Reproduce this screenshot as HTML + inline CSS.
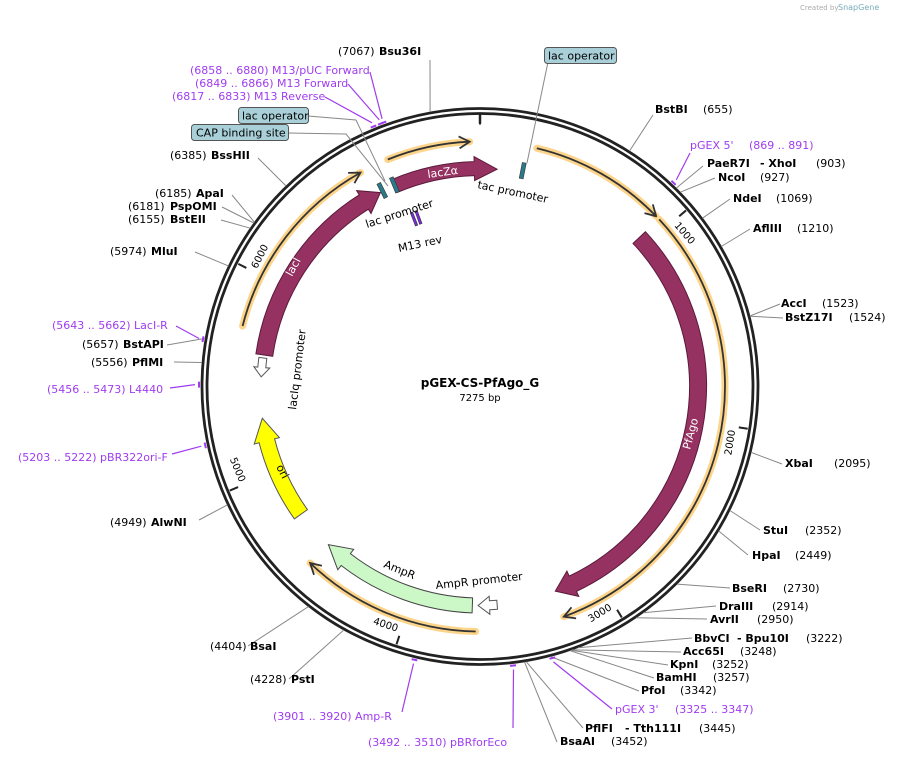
<!DOCTYPE html>
<html><head><meta charset="utf-8">
<style>
html,body{margin:0;padding:0;background:#fff;}
svg{display:block;font-family:"DejaVu Sans","Liberation Sans",sans-serif;font-size:11px;}
.b{font-weight:bold;fill:#000;}
.n{fill:#000;}
.p{fill:#a03cf0;}
</style></head><body>
<svg id="s" width="898" height="758" viewBox="0 0 898 758" xmlns="http://www.w3.org/2000/svg">
<text x="800" y="10" font-size="7" fill="#aaa">Created by</text><text x="838" y="10" font-size="8" fill="#7ab">SnapGene</text>
<g id="shapes"></g>
<g id="lines" stroke="#888" stroke-width="1" fill="none"></g>

<text x="480" y="387" text-anchor="middle" font-weight="bold" font-size="12">pGEX-CS-PfAgo_G</text>
<text x="480" y="401" text-anchor="middle" font-size="10">7275 bp</text>

<text x="655" y="113"><tspan class="b">BstBI</tspan><tspan x="703" class="n">(655)</tspan></text>
<text x="690" y="149" class="p">pGEX 5'<tspan x="749">(869 .. 891)</tspan></text>
<text x="707" y="167"><tspan class="b">PaeR7I</tspan><tspan x="760" class="b">- XhoI</tspan><tspan x="816">(903)</tspan></text>
<text x="718" y="181"><tspan class="b">NcoI</tspan><tspan x="760">(927)</tspan></text>
<text x="733" y="202"><tspan class="b">NdeI</tspan><tspan x="776">(1069)</tspan></text>
<text x="753" y="232"><tspan class="b">AflIII</tspan><tspan x="797">(1210)</tspan></text>
<text x="781" y="307"><tspan class="b">AccI</tspan><tspan x="822">(1523)</tspan></text>
<text x="785" y="321"><tspan class="b">BstZ17I</tspan><tspan x="849">(1524)</tspan></text>
<text x="785" y="467"><tspan class="b">XbaI</tspan><tspan x="834">(2095)</tspan></text>
<text x="763" y="534"><tspan class="b">StuI</tspan><tspan x="805">(2352)</tspan></text>
<text x="752" y="559"><tspan class="b">HpaI</tspan><tspan x="795">(2449)</tspan></text>
<text x="732" y="592"><tspan class="b">BseRI</tspan><tspan x="783">(2730)</tspan></text>
<text x="719" y="610"><tspan class="b">DraIII</tspan><tspan x="772">(2914)</tspan></text>
<text x="710" y="623"><tspan class="b">AvrII</tspan><tspan x="757">(2950)</tspan></text>
<text x="694" y="642"><tspan class="b">BbvCI</tspan><tspan x="737" class="b">- Bpu10I</tspan><tspan x="806">(3222)</tspan></text>
<text x="683" y="655"><tspan class="b">Acc65I</tspan><tspan x="740">(3248)</tspan></text>
<text x="670" y="668"><tspan class="b">KpnI</tspan><tspan x="712">(3252)</tspan></text>
<text x="656" y="681"><tspan class="b">BamHI</tspan><tspan x="713">(3257)</tspan></text>
<text x="641" y="694"><tspan class="b">PfoI</tspan><tspan x="680">(3342)</tspan></text>
<text x="615" y="713" class="p">pGEX 3'<tspan x="675">(3325 .. 3347)</tspan></text>
<text x="585" y="732"><tspan class="b">PflFI</tspan><tspan x="625" class="b">- Tth111I</tspan><tspan x="699">(3445)</tspan></text>
<text x="560" y="745"><tspan class="b">BsaAI</tspan><tspan x="611">(3452)</tspan></text>

<text x="368" y="746" class="p">(3492 .. 3510)  pBRforEco</text>
<text x="273" y="720" class="p">(3901 .. 3920)  Amp-R</text>
<text x="250" y="683">(4228)<tspan x="291" class="b">PstI</tspan></text>
<text x="210" y="650">(4404)<tspan x="250" class="b">BsaI</tspan></text>
<text x="110" y="526">(4949)<tspan x="151" class="b">AlwNI</tspan></text>
<text x="18" y="461" class="p">(5203 .. 5222)  pBR322ori-F</text>
<text x="47" y="393" class="p">(5456 .. 5473)  L4440</text>
<text x="91" y="366">(5556)<tspan x="132" class="b">PflMI</tspan></text>
<text x="82" y="348">(5657)<tspan x="123" class="b">BstAPI</tspan></text>
<text x="52" y="329" class="p">(5643 .. 5662)  LacI-R</text>
<text x="110" y="255">(5974)<tspan x="151" class="b">MluI</tspan></text>
<text x="128" y="223">(6155)<tspan x="170" class="b">BstEII</tspan></text>
<text x="128" y="210">(6181)<tspan x="170" class="b">PspOMI</tspan></text>
<text x="155" y="197">(6185)<tspan x="196" class="b">ApaI</tspan></text>
<text x="170" y="159">(6385)<tspan x="211" class="b">BssHII</tspan></text>
<text x="172" y="100" class="p">(6817 .. 6833)  M13 Reverse</text>
<text x="195" y="87" class="p">(6849 .. 6866)  M13 Forward</text>
<text x="190" y="74" class="p">(6858 .. 6880)  M13/pUC Forward</text>
<text x="338" y="55">(7067)<tspan x="379" class="b">Bsu36I</tspan></text>

<rect x="191.5" y="124.5" width="97" height="16" rx="3" fill="#a9d0d9" stroke="#555"/>
<text x="196" y="136.5">CAP binding site</text>
<rect x="238.5" y="107.5" width="70" height="16" rx="3" fill="#a9d0d9" stroke="#555"/>
<text x="242" y="119.5">lac operator</text>
<rect x="544.5" y="47.5" width="72" height="16" rx="3" fill="#a9d0d9" stroke="#555"/>
<text x="548" y="59.5">lac operator</text>

<text x="0" y="0" transform="translate(428,178) rotate(-8)" fill="#fff" font-size="11">lacZα</text>
<text x="0" y="0" transform="translate(292,277) rotate(-62)" fill="#fff" font-size="11">lacI</text>
<text x="0" y="0" transform="translate(690,450) rotate(-75)" fill="#fff" font-size="11">PfAgo</text>
<text x="0" y="0" transform="translate(276,467) rotate(62)" fill="#000" font-size="11">ori</text>
<text x="0" y="0" transform="translate(383,567) rotate(22)" font-size="11">AmpR</text>
<text x="0" y="0" transform="translate(436,589) rotate(-6)" font-size="11">AmpR promoter</text>
<text x="0" y="0" transform="translate(296,410) rotate(-83)" font-size="11">lacIq promoter</text>
<text x="0" y="0" transform="translate(367,228) rotate(-18)" font-size="11">lac promoter</text>
<text x="0" y="0" transform="translate(477,188) rotate(12)" font-size="11">tac promoter</text>
<text x="0" y="0" transform="translate(399,252) rotate(-12)" font-size="11">M13 rev</text>
<g id="ticks"></g>
</svg>
<script>
var cx=480,cy=386.5,N=7275;
function P(a,r){var t=a*Math.PI/180;return [cx+r*Math.sin(t),cy-r*Math.cos(t)];}
function f(p){return p[0].toFixed(1)+","+p[1].toFixed(1);}
function arc(a1,a2,r){var p1=P(a1,r),p2=P(a2,r);var lg=(a2-a1)>180?1:0;return "M"+f(p1)+" A"+r+","+r+" 0 "+lg+" 1 "+f(p2);}
var sh=document.getElementById("shapes");var out="";
out+='<circle cx="'+cx+'" cy="'+cy+'" r="278" fill="none" stroke="#222" stroke-width="2.8"/>';
out+='<circle cx="'+cx+'" cy="'+cy+'" r="273" fill="none" stroke="#222" stroke-width="2.8"/>';
function feat(a1,a2,r,w,h,hw,fill,stroke){
 var ah=a2-h;var ro=r+w/2,ri=r-w/2;
 var d="M"+f(P(a1,ro))+" A"+ro+","+ro+" 0 "+((ah-a1)>180?1:0)+" 1 "+f(P(ah,ro));
 d+=" L"+f(P(ah,r+hw/2))+" L"+f(P(a2,r))+" L"+f(P(ah,r-hw/2))+" L"+f(P(ah,ri));
 d+=" A"+ri+","+ri+" 0 "+((ah-a1)>180?1:0)+" 0 "+f(P(a1,ri))+"Z";
 out+='<path d="'+d+'" fill="'+fill+'" stroke="'+stroke+'" stroke-width="1"/>';
}
function featR(a1,a2,r,w,h,hw,fill,stroke){
 var ah=a1+h;var ro=r+w/2,ri=r-w/2;
 var d="M"+f(P(a2,ro))+" A"+ro+","+ro+" 0 0 0 "+f(P(ah,ro));
 d+=" L"+f(P(ah,r+hw/2))+" L"+f(P(a1,r))+" L"+f(P(ah,r-hw/2))+" L"+f(P(ah,ri));
 d+=" A"+ri+","+ri+" 0 0 1 "+f(P(a2,ri))+"Z";
 out+='<path d="'+d+'" fill="'+fill+'" stroke="'+stroke+'" stroke-width="1"/>';
}
var pu="#963262";
feat(278.3,332.8,218,17,5,27,pu,"#5a1a3a");
feat(337,364.5,218,14,6,24,pu,"#5a1a3a");
feat(46.9,159.8,218,17,5,28,pu,"#5a1a3a");
feat(234.5,261.7,220,16,6,26,"#ffff00","#555");
feat(182,223.8,219,15,6,26,"#ccf8c8","#444");
feat(175.5,180.5,219,9,3,18,"#fff","#555");
featR(272.5,277.5,219,8,2.5,16,"#fff","#555");
function orange(a1,a2,r,head){
 out+='<path d="'+arc(a1,a2,r)+'" fill="none" stroke="#fcd48a" stroke-width="7" stroke-linecap="round"/>';
 out+='<path d="'+arc(a1,a2,r)+'" fill="none" stroke="#333" stroke-width="1.8"/>';
 if(head){var t=P(a2,r),b1=P(a2-2.5,r+6),b2=P(a2-2.5,r-6);
  out+='<path d="M'+f(b1)+" L"+f(t)+" L"+f(b2)+'" fill="none" stroke="#333" stroke-width="1.8"/>';}
}
orange(337.9,357.6,245,1);orange(13.4,46,245,1);orange(47,160,245,1);orange(181,223.9,245,1);orange(284.3,330.8,245,1);
function box(a,r,c,w,hh){w=w||4;hh=hh||16;var p=P(a,r);out+='<rect x="'+(p[0]-w/2)+'" y="'+(p[1]-hh/2)+'" width="'+w+'" height="'+hh+'" fill="'+c+'" stroke="#333" stroke-width="0.6" transform="rotate('+a+' '+p[0]+' '+p[1]+')"/>';}
box(333.5,219,"#2a7a8a");box(337,219,"#2a7a8a");box(11.2,220,"#2a7a8a");
box(338.5,180,"#7a2ae0",2.5,14);box(340,180,"#7a2ae0",2.5,14);
var tk="";
for(var i=0;i<7;i++){var a=(i*1000)/N*360;var p1=P(a,262),p2=P(a,271);
 tk+='<line x1="'+p1[0]+'" y1="'+p1[1]+'" x2="'+p2[0]+'" y2="'+p2[1]+'" stroke="#222" stroke-width="2"/>';
 if(i>0){var q=P(a+0.8,260);var rot=(a>90&&a<270)?a-180:a;var anc=(a>90&&a<270)?"end":"start";
  tk+='<text x="0" y="0" font-size="10" text-anchor="'+anc+'" transform="translate('+q[0].toFixed(1)+','+q[1].toFixed(1)+') rotate('+rot.toFixed(1)+')" dy="'+((a>90&&a<270)?"-1":"8")+'">'+(i*1000)+'</text>';}
}
var z1=P(0,263),z2=P(0,272);tk+='<line x1="'+z1[0]+'" y1="'+z1[1]+'" x2="'+z2[0]+'" y2="'+z2[1]+'" stroke="#222" stroke-width="2.5"/>';
document.getElementById("ticks").innerHTML=tk;
sh.innerHTML=out;
var L=[
[655,653,115],[903,703,166],[927,715,178],[1069,730,199],[1210,750,229],[1523,780,304],[1524,783,318],
[2095,782,464],[2352,760,530],[2449,748,555],[2730,730,588],[2914,716,606],[2950,707,619],
[3222,692,638],[3248,681,652],[3252,668,665],[3257,654,678],[3342,639,691],[3445,583,728],[3452,557,742],
[4228,289,679],[4404,248,646],[4949,199,520],[5556,174,362],[5657,167,345],[5974,195,252],
[6155,221,220],[6181,222,207],[6185,232,195],[6385,258,158],[7067,430,60]];
var lg="";
L.forEach(function(l){var a=l[0]/N*360;var p=P(a,279);lg+='<line x1="'+p[0].toFixed(1)+'" y1="'+p[1].toFixed(1)+'" x2="'+l[1]+'" y2="'+l[2]+'"/>';});
lg+='<polyline points="288,133 346,134 388,186"/>';
lg+='<polyline points="308,116 356,120 385,181"/>';
lg+='<line x1="548" y1="62" x2="527" y2="163"/>';
document.getElementById("lines").innerHTML=lg;
var pl="";
var PR=[[880,690,153],[3336,612,709],[3501,513,728],[3910,402,712],[5212,172,454],[5464,170,388],[5652,176,326],[6825,325,97],[6857,348,84],[6869,370,72]];
PR.forEach(function(l){var a=l[0]/N*360;var q=P(a,285);
 pl+='<line x1="'+l[1]+'" y1="'+l[2]+'" x2="'+q[0].toFixed(1)+'" y2="'+q[1].toFixed(1)+'"/>';
 var b1=P(a-0.6,281),b2=P(a+0.6,281);pl+='<line x1="'+b1[0].toFixed(1)+'" y1="'+b1[1].toFixed(1)+'" x2="'+b2[0].toFixed(1)+'" y2="'+b2[1].toFixed(1)+'" stroke-width="2"/>';});
var g=document.createElementNS("http://www.w3.org/2000/svg","g");g.setAttribute("stroke","#a03cf0");g.setAttribute("stroke-width","1.2");g.innerHTML=pl;document.getElementById("s").appendChild(g);
</script>
</body></html>
